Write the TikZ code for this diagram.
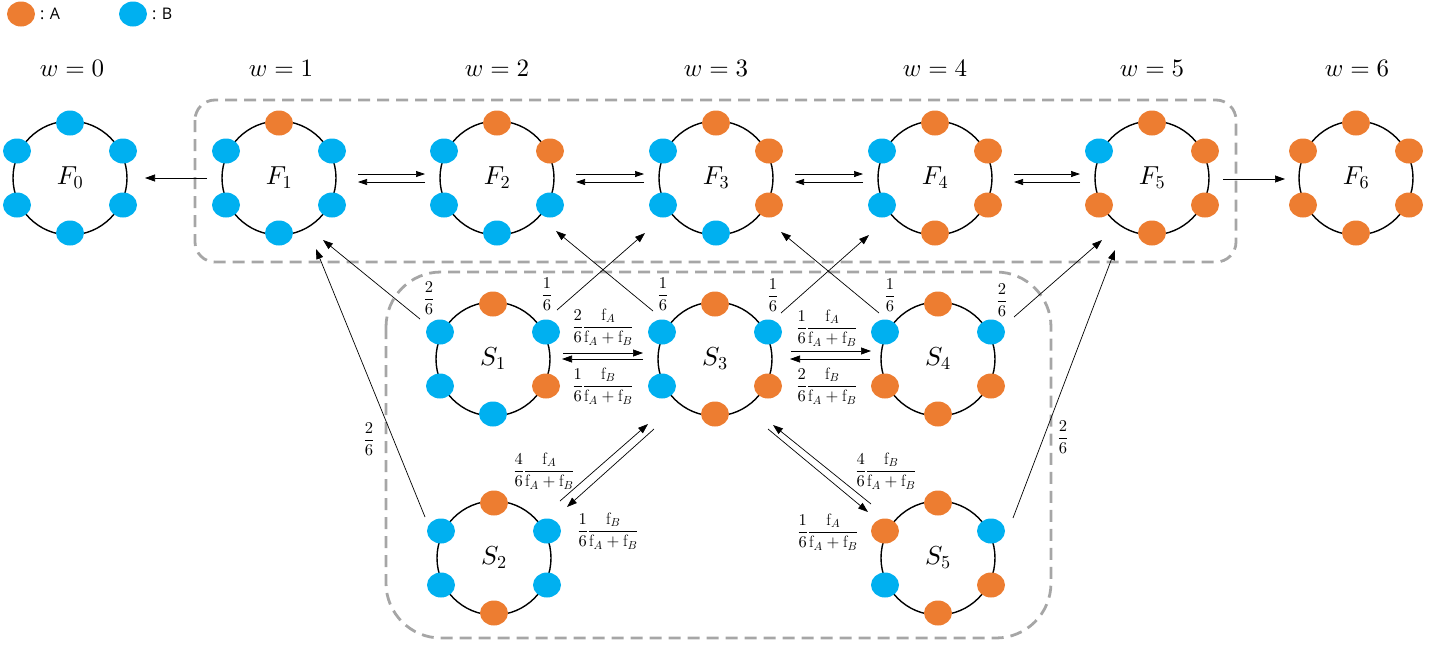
\documentclass[tikz,border=0pt]{standalone}
\usepackage{fontspec}
\newfontfamily\legendfont{Open Sans}
% scalable Computer Modern math letters and symbols
\DeclareFontShape{OML}{cmm}{m}{it}{<->cmmi10}{}
\DeclareFontShape{OMS}{cmsy}{m}{n}{<->cmsy10}{}
\DeclareFontShape{OT1}{cmr}{m}{n}{<->cmr10}{}
\usetikzlibrary{arrows.meta,calc,shapes.geometric}
\definecolor{colA}{HTML}{ED7D31}
\definecolor{colB}{HTML}{00B0F0}
\definecolor{boxgray}{HTML}{A6A6A6}

% a ring of six sites: name, centre, label, then colours of the sites
% top, upper right, lower right, bottom, lower left, upper left
\newcommand\statering[9]{%
  \node[ringnode] (#1) at (#2) {$#3$};
  \node[dot,fill=#4] (#1-t)  at ($(#1)+(0,-55)$) {};
  \node[dot,fill=#5] (#1-ur) at ($(#1)+(53,-27)$) {};
  \node[dot,fill=#6] (#1-lr) at ($(#1)+(53,27)$) {};
  \node[dot,fill=#7] (#1-b)  at ($(#1)+(0,55)$) {};
  \node[dot,fill=#8] (#1-ll) at ($(#1)+(-53,27)$) {};
  \node[dot,fill=#9] (#1-ul) at ($(#1)+(-53,-27)$) {};
}
\newcommand\ratefrac[2]{$\displaystyle\frac{#1}{6}\frac{\mathrm{f}_{#2}}{\mathrm{f}_A+\mathrm{f}_B}$}
\newcommand\sixth[1]{$\displaystyle\frac{#1}{6}$}

\begin{document}
\begin{tikzpicture}[x=1pt,y=-1pt,
  ringnode/.style={circle,draw,line width=1.4pt,minimum size=114pt,inner sep=0pt,
    font=\fontsize{26}{30}\selectfont},
  dot/.style={ellipse,minimum width=28pt,minimum height=25pt,inner sep=0pt,draw=none},
  link/.style={line width=0.7pt,-{Triangle[length=10pt,width=7pt]}},
  rate/.style={inner sep=0pt,font=\fontsize{16.5}{20}\selectfont},
  wlabel/.style={font=\fontsize{25}{30}\selectfont},
  keytext/.style={anchor=west,inner sep=0pt,font=\legendfont\fontsize{16}{19}\selectfont},
  groupbox/.style={draw=boxgray,line width=2.8pt,dash pattern=on 12pt off 7pt}]

\useasboundingbox (0,0) rectangle (1444,646);

% legend
\node[dot,fill=colA] (keyA) at (21,14) {};
\node[keytext] (keyAtext) at (40,14) {: A};
\node[dot,fill=colB] (keyB) at (133,14) {};
\node[keytext] (keyBtext) at (152,14) {: B};

% groups
\draw[groupbox,rounded corners=20pt] (195,100) rectangle (1236,262);
\draw[groupbox,rounded corners=55pt] (386,272) rectangle (1051,638);

% weight headings
\foreach \x/\w in {72/0,281/1,497/2,716/3,935/4,1152/5,1357/6}
  \node[wlabel] (w\w) at (\x,68) {$w=\w$};

% states
\statering{F0}{70,178}{F_0}{colB}{colB}{colB}{colB}{colB}{colB}
\statering{F1}{279,178}{F_1}{colA}{colB}{colB}{colB}{colB}{colB}
\statering{F2}{497,178}{F_2}{colA}{colA}{colB}{colB}{colB}{colB}
\statering{F3}{716,178}{F_3}{colA}{colA}{colA}{colB}{colB}{colB}
\statering{F4}{935,178}{F_4}{colA}{colA}{colA}{colA}{colB}{colB}
\statering{F5}{1152,178}{F_5}{colA}{colA}{colA}{colA}{colA}{colB}
\statering{F6}{1356,178}{F_6}{colA}{colA}{colA}{colA}{colA}{colA}
\statering{S1}{493,359}{S_1}{colA}{colB}{colA}{colB}{colB}{colB}
\statering{S3}{715,359}{S_3}{colA}{colB}{colA}{colA}{colB}{colB}
\statering{S4}{938,359}{S_4}{colA}{colB}{colA}{colA}{colA}{colB}
\statering{S2}{494,558}{S_2}{colA}{colB}{colB}{colA}{colB}{colB}
\statering{S5}{938,558}{S_5}{colA}{colB}{colA}{colA}{colB}{colA}

% transitions along the top row
\draw[link] ($(F1)+(-72,0)$) -- ($(F0)+(75,0)$);
\draw[link] ($(F5)+(71,1)$) -- ($(F6)+(-71,1)$);
\foreach \a/\b in {F1/F2,F2/F3,F3/F4,F4/F5}{
  \draw[link,-{Triangle[length=9pt,width=6pt]}] ($(\a)+(79,-4)$) -- ($(\b)+(-72,-4)$);
  \draw[link,-{Triangle[length=9pt,width=6pt]}] ($(\b)+(-72,4)$) -- ($(\a)+(79,4)$);
}

% transitions from the lower states into the top row
\draw[link] ($(S1)+(-73,-40)$) -- ($(F1)+(44,62)$);
\draw[link] ($(S2)+(-69,-41)$) -- ($(F1)+(37,71)$);
\draw[link] ($(S1)+(64,-49)$) -- ($(F3)+(-71,55)$);
\draw[link] ($(S3)+(-62,-48)$) -- ($(F2)+(59,53)$);
\draw[link] ($(S3)+(66,-46)$) -- ($(F4)+(-66,57)$);
\draw[link] ($(S4)+(-59,-46)$) -- ($(F3)+(65,54)$);
\draw[link] ($(S4)+(76,-42)$) -- ($(F5)+(-50,62)$);
\draw[link] ($(S5)+(75,-40)$) -- ($(F5)+(-37,72)$);

\node[rate] (p11) at (429,298) {\sixth{2}};
\node[rate] (p21) at (369,439) {\sixth{2}};
\node[rate] (p13) at (547,294) {\sixth{1}};
\node[rate] (p32) at (663,294) {\sixth{1}};
\node[rate] (p34) at (773,295) {\sixth{1}};
\node[rate] (p43) at (890,295) {\sixth{1}};
\node[rate] (p45) at (1002,300) {\sixth{2}};
\node[rate] (p55) at (1063,437) {\sixth{2}};

% transitions among the lower states
\draw[link] ($(S1)+(70,-6)$) -- ($(S3)+(-72,-6)$);
\draw[link] ($(S3)+(-72,0)$) -- ($(S1)+(69,0)$);
\draw[link] ($(S3)+(76,-8)$) -- ($(S4)+(-67,-8)$);
\draw[link] ($(S4)+(-68,0)$) -- ($(S3)+(75,0)$);
\draw[link] ($(S2)+(66,-57)$) -- ($(S3)+(-67,65)$);
\draw[link] ($(S3)+(-61,70)$) -- ($(S2)+(73,-51)$);
\draw[link] ($(S5)+(-67,-54)$) -- ($(S3)+(58,66)$);
\draw[link] ($(S3)+(53,70)$) -- ($(S5)+(-70,-46)$);

\node[rate] (r13) at (603,327) {\ratefrac{2}{A}};
\node[rate] (r31) at (603,386) {\ratefrac{1}{B}};
\node[rate] (r34) at (827,328) {\ratefrac{1}{A}};
\node[rate] (r43) at (827,386) {\ratefrac{2}{B}};
\node[rate] (r23) at (544,471) {\ratefrac{4}{A}};
\node[rate] (r32) at (608,531) {\ratefrac{1}{B}};
\node[rate] (r53) at (886,471) {\ratefrac{4}{B}};
\node[rate] (r35) at (828,532) {\ratefrac{1}{A}};
\end{tikzpicture}
\end{document}
